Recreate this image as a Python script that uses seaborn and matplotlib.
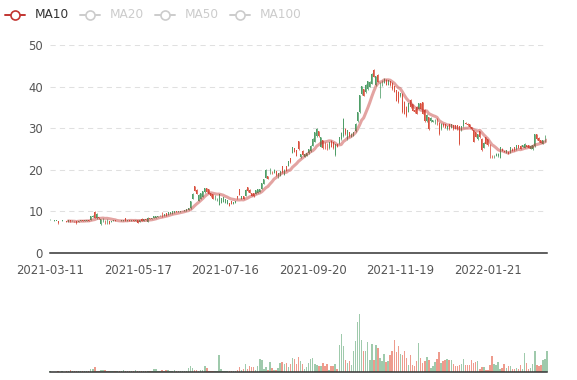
import pandas as pd
import seaborn as sns
import matplotlib.pyplot as plt
from matplotlib.lines import Line2D

# daily candles, one row of ten per line
open_ = [
    8.0, 7.9, 7.8, 7.8, 7.8, 7.5, 7.6, 7.7, 7.6, 7.5,
    7.9, 7.6, 7.8, 7.8, 7.5, 7.7, 7.9, 7.7, 7.8, 7.9,
    7.9, 8.7, 9.9, 8.3, 8.6, 6.9, 7.4, 7.9, 7.1, 7.6,
    7.4, 7.6, 7.9, 7.6, 7.8, 7.6, 7.8, 8.4, 7.8, 7.9,
    7.7, 7.9, 7.7, 7.9, 7.4, 8.2, 7.8, 8.2, 7.5, 8.5,
    8.2, 8.3, 8.5, 8.7, 8.8, 9.8, 8.9, 9.6, 9.2, 9.3,
    9.4, 9.7, 10.1, 9.8, 9.9, 10.0, 10.0, 10.2, 10.3, 10.7,
    13.1, 16.0, 15.2, 12.6, 13.0, 13.5, 14.6, 15.6, 15.3, 14.5,
    14.1, 13.0, 12.6, 11.6, 12.0, 12.2, 12.0, 11.8, 12.1, 12.4,
    11.8, 12.1, 13.7, 15.4, 13.0, 13.7, 13.7, 15.8, 15.2, 14.5,
    14.5, 14.2, 14.5, 14.7, 15.5, 16.7, 18.1, 18.5, 18.9, 19.7,
    19.3, 19.8, 18.4, 18.6, 20.8, 18.7, 20.8, 21.0, 22.8, 24.1,
    25.2, 24.8, 26.9, 23.0, 24.6, 23.1, 23.3, 24.0, 24.4, 25.8,
    26.8, 28.1, 29.4, 25.5, 27.1, 26.6, 26.3, 25.2, 27.0, 26.6,
    23.5, 26.3, 26.4, 27.3, 28.2, 29.9, 27.3, 29.1, 27.9, 28.2,
    29.3, 31.7, 33.8, 38.2, 39.4, 38.6, 39.4, 39.9, 40.7, 44.0,
    40.3, 42.9, 37.4, 40.3, 40.9, 41.7, 40.4, 41.3, 40.9, 40.1,
    39.1, 38.8, 37.7, 38.3, 36.4, 35.2, 33.9, 36.8, 35.8, 34.4,
    35.2, 34.6, 36.0, 36.2, 34.4, 31.7, 32.6, 31.7, 31.5, 31.1,
    32.3, 31.3, 29.7, 31.1, 30.9, 29.7, 30.9, 30.1, 30.7, 30.7,
    30.7, 30.5, 29.5, 30.5, 31.3, 31.1, 30.9, 30.3, 29.5, 29.0,
    27.3, 29.3, 27.5, 25.3, 27.9, 27.3, 26.1, 23.5, 23.0, 23.3,
    23.2, 22.9, 25.1, 24.6, 24.1, 24.3, 24.1, 25.1, 25.5, 24.9,
    25.9, 25.8, 25.4, 25.3, 25.9, 25.9, 25.1, 24.9, 25.7, 28.5,
    27.7, 27.1, 26.3, 26.9, 28.1,
]
close = [
    8.15, 7.9, 7.8, 7.8, 7.1, 7.5, 7.85, 7.7, 7.4, 7.9,
    7.6, 7.8, 7.6, 7.1, 7.8, 7.9, 7.7, 7.9, 7.9, 7.8,
    8.8, 9.0, 8.5, 9.4, 8.3, 8.1, 8.3, 7.1, 8.1, 7.0,
    7.8, 7.9, 7.7, 7.8, 7.6, 7.9, 8.0, 7.8, 7.9, 7.8,
    7.9, 7.7, 7.9, 7.2, 7.9, 7.8, 8.2, 8.0, 8.5, 8.2,
    8.5, 8.8, 9.0, 9.0, 9.2, 8.7, 9.4, 9.0, 9.8, 9.9,
    10.0, 10.0, 9.8, 10.1, 10.1, 10.2, 10.3, 10.6, 10.8, 12.4,
    14.3, 15.0, 14.2, 14.0, 14.4, 14.8, 15.6, 14.7, 14.2, 13.6,
    13.1, 13.9, 13.2, 14.2, 13.2, 13.4, 13.0, 12.7, 11.4, 11.7,
    12.3, 12.6, 13.2, 14.0, 13.7, 13.0, 15.2, 14.8, 14.4, 13.6,
    13.6, 15.2, 15.3, 15.5, 16.8, 17.8, 20.0, 17.8, 20.4, 18.9,
    20.0, 18.7, 19.3, 19.6, 19.4, 19.9, 19.8, 22.0, 21.8, 25.4,
    24.3, 23.2, 24.9, 23.8, 23.6, 23.8, 24.0, 25.0, 25.8, 27.5,
    29.0, 29.8, 28.1, 27.8, 25.2, 25.0, 24.8, 26.6, 25.5, 25.2,
    26.2, 25.6, 27.9, 28.8, 32.2, 28.5, 29.5, 28.1, 28.7, 29.1,
    31.1, 33.9, 38.0, 40.1, 37.8, 40.5, 41.3, 41.2, 43.1, 42.3,
    42.5, 41.1, 40.8, 41.5, 41.9, 40.4, 41.5, 40.3, 39.4, 38.8,
    36.6, 36.2, 38.4, 33.8, 33.4, 32.9, 36.0, 35.0, 34.2, 33.8,
    33.4, 36.0, 34.7, 33.4, 31.7, 33.2, 29.7, 32.5, 31.9, 32.1,
    30.9, 28.5, 31.1, 30.5, 30.1, 30.5, 29.7, 30.9, 29.7, 29.9,
    29.7, 26.1, 30.5, 31.9, 31.0, 30.7, 30.2, 29.7, 26.7, 28.0,
    28.5, 27.8, 24.7, 26.5, 26.3, 25.9, 22.9, 22.9, 23.5, 23.9,
    23.9, 25.5, 24.5, 24.3, 24.7, 23.9, 25.5, 24.5, 24.7, 25.9,
    25.3, 25.1, 25.9, 26.3, 25.4, 25.3, 25.8, 25.9, 28.5, 27.3,
    26.9, 26.5, 27.1, 28.3, 29.7,
]
low = [
    7.95, 7.9, 7.8, 7.75, 7.0, 7.45, 7.6, 7.65, 7.4, 7.5,
    7.55, 7.6, 7.55, 7.0, 7.45, 7.7, 7.7, 7.7, 7.8, 7.75,
    7.9, 8.6, 8.4, 8.2, 8.2, 6.8, 7.4, 7.0, 7.0, 7.0,
    7.4, 7.6, 7.7, 7.6, 7.6, 7.6, 7.8, 7.8, 7.8, 7.75,
    7.7, 7.7, 7.7, 7.1, 7.4, 7.8, 7.8, 8.0, 7.4, 8.2,
    8.2, 8.3, 8.5, 8.7, 8.8, 8.6, 8.9, 9.0, 9.2, 9.3,
    9.4, 9.7, 9.8, 9.8, 9.9, 10.0, 10.0, 10.2, 10.3, 10.6,
    13.0, 14.9, 14.1, 12.5, 13.0, 13.5, 14.5, 14.7, 14.1, 13.5,
    13.1, 12.8, 12.6, 11.5, 12.0, 12.2, 12.0, 11.8, 11.3, 11.7,
    11.8, 12.1, 13.1, 13.9, 13.0, 13.0, 13.6, 14.7, 14.4, 13.6,
    13.5, 14.2, 14.5, 14.7, 15.5, 16.7, 18.1, 17.7, 18.9, 18.9,
    19.3, 18.5, 18.1, 18.5, 19.3, 18.7, 19.7, 20.9, 21.7, 24.0,
    24.2, 23.2, 24.8, 22.9, 23.5, 23.1, 23.3, 23.9, 24.3, 25.7,
    26.7, 28.0, 28.0, 25.4, 25.1, 24.9, 24.7, 25.1, 25.4, 25.1,
    23.3, 25.5, 26.3, 27.2, 28.0, 28.4, 27.2, 28.0, 27.8, 28.1,
    29.2, 31.6, 33.7, 38.1, 37.7, 38.5, 39.3, 39.8, 40.6, 42.2,
    40.2, 41.0, 37.3, 40.2, 40.8, 40.3, 40.3, 40.2, 39.3, 38.7,
    36.5, 36.1, 37.6, 33.7, 33.3, 32.8, 33.8, 34.9, 34.1, 33.7,
    33.3, 34.5, 34.6, 33.3, 31.6, 31.6, 29.6, 31.6, 31.4, 31.0,
    30.8, 28.4, 29.6, 30.4, 30.0, 29.6, 29.6, 30.0, 29.6, 29.8,
    29.6, 26.0, 29.4, 30.4, 30.9, 30.6, 30.1, 29.6, 26.6, 27.9,
    27.2, 27.7, 24.6, 25.2, 26.2, 25.8, 22.8, 22.8, 22.9, 23.2,
    23.1, 22.8, 24.4, 24.2, 24.0, 23.8, 24.0, 24.4, 24.6, 24.8,
    25.2, 25.0, 25.4, 25.2, 25.4, 25.2, 25.0, 24.8, 25.6, 27.2,
    26.8, 26.4, 26.2, 26.8, 28.0,
]
high = [
    8.2, 7.95, 7.85, 7.8, 7.8, 7.5, 7.9, 7.7, 7.6, 8.0,
    7.9, 7.85, 7.8, 7.8, 7.8, 7.95, 7.9, 7.9, 7.95, 7.9,
    9.0, 9.1, 10.0, 9.5, 8.7, 8.2, 8.4, 7.9, 8.2, 7.6,
    7.8, 7.9, 7.9, 7.8, 7.8, 7.9, 8.0, 8.4, 7.95, 7.9,
    7.9, 7.9, 7.9, 7.9, 7.9, 8.3, 8.2, 8.2, 8.6, 8.5,
    8.5, 8.8, 9.0, 9.0, 9.2, 9.9, 9.4, 9.6, 9.8, 9.9,
    10.0, 10.0, 10.1, 10.1, 10.1, 10.2, 10.3, 10.6, 10.8, 12.5,
    14.4, 16.2, 15.3, 14.1, 14.5, 14.9, 15.7, 15.6, 15.3, 14.5,
    14.1, 13.9, 13.3, 14.3, 13.3, 13.4, 13.1, 12.7, 12.1, 12.5,
    12.3, 12.6, 13.7, 15.5, 13.8, 13.8, 15.3, 15.9, 15.3, 14.5,
    14.5, 15.2, 15.3, 15.5, 16.9, 17.9, 20.1, 18.5, 20.5, 19.7,
    20.1, 19.8, 19.3, 19.7, 20.9, 20.1, 20.9, 22.1, 22.9, 25.5,
    25.2, 24.8, 27.0, 23.9, 24.7, 23.9, 24.0, 25.1, 25.9, 27.6,
    29.2, 30.0, 29.4, 28.0, 27.2, 26.7, 26.5, 26.7, 27.2, 26.7,
    26.3, 26.3, 28.0, 29.0, 32.4, 30.0, 29.6, 29.2, 28.8, 29.2,
    31.2, 34.0, 38.1, 40.2, 39.5, 40.6, 41.4, 41.4, 43.3, 44.2,
    42.6, 43.0, 41.0, 41.6, 42.0, 41.8, 41.6, 41.4, 41.0, 40.2,
    39.2, 38.9, 38.5, 38.5, 36.5, 35.3, 36.1, 36.9, 35.9, 34.5,
    35.3, 36.1, 36.1, 36.3, 34.5, 33.3, 32.8, 32.6, 32.0, 32.2,
    32.4, 31.4, 31.2, 31.2, 31.0, 30.6, 31.0, 31.0, 30.8, 30.8,
    30.8, 30.6, 30.6, 32.0, 31.4, 31.2, 31.0, 30.4, 29.6, 29.1,
    28.6, 29.4, 27.6, 26.6, 28.0, 27.4, 26.2, 23.6, 23.6, 24.0,
    24.0, 25.6, 25.2, 24.6, 24.8, 24.4, 25.6, 25.2, 25.6, 26.0,
    26.0, 25.9, 26.0, 26.4, 26.0, 26.0, 25.9, 26.0, 28.6, 28.6,
    27.8, 27.2, 27.2, 28.4, 29.8,
]
volume = [
    1.3, 0.4, 0.4, 0.4, 1.3, 0.5, 0.8, 0.5, 0.8, 1.0,
    2.3, 1.2, 1.0, 1.3, 1.3, 1.0, 1.0, 1.3, 1.3, 1.0,
    3.3, 3.3, 5.3, 1.5, 1.2, 2.0, 2.3, 2.3, 1.3, 1.0,
    1.0, 1.0, 1.3, 1.3, 1.3, 1.3, 2.0, 1.3, 1.0, 1.3,
    1.3, 1.0, 2.0, 1.3, 1.3, 1.3, 0.8, 0.8, 0.8, 1.0,
    1.3, 3.3, 2.7, 1.3, 1.3, 2.3, 1.0, 2.0, 2.0, 1.3,
    1.3, 2.3, 1.0, 1.0, 1.3, 1.0, 1.0, 1.3, 4.3, 5.7,
    4.3, 2.3, 2.3, 1.0, 2.3, 2.0, 6.3, 3.7, 1.0, 1.3,
    1.3, 1.0, 1.3, 17.3, 3.0, 1.3, 1.3, 1.3, 1.3, 1.3,
    1.0, 1.3, 1.7, 5.0, 1.7, 3.3, 8.3, 3.3, 5.7, 5.0,
    4.7, 1.7, 6.3, 13.0, 12.3, 3.0, 5.0, 2.0, 10.3, 3.7,
    2.0, 2.3, 4.0, 9.0, 10.0, 8.3, 9.0, 5.0, 8.0, 14.0,
    13.0, 8.3, 14.7, 10.7, 8.3, 3.3, 4.7, 9.0, 13.0, 14.0,
    8.0, 7.3, 6.3, 6.3, 9.0, 6.3, 8.3, 2.3, 6.3, 5.7,
    8.0, 3.0, 26.7, 38.0, 26.3, 11.7, 9.0, 11.3, 6.7, 21.3,
    31.3, 50.0, 58.0, 32.0, 21.3, 21.3, 30.3, 11.7, 28.0, 12.3,
    27.3, 24.0, 14.0, 11.3, 18.3, 10.0, 10.7, 16.7, 20.7, 31.7,
    19.7, 25.7, 18.0, 17.3, 20.7, 14.0, 7.3, 17.3, 7.3, 5.7,
    10.7, 29.0, 14.3, 9.0, 10.7, 15.3, 12.3, 4.0, 5.7, 10.3,
    13.0, 19.7, 9.0, 10.7, 11.7, 13.0, 12.0, 12.0, 8.0, 6.3,
    6.3, 7.3, 8.0, 12.7, 7.3, 7.0, 7.3, 11.7, 9.0, 9.7,
    11.0, 3.0, 5.0, 5.0, 2.3, 2.3, 7.3, 16.3, 8.3, 6.7,
    10.0, 3.0, 4.0, 8.0, 4.0, 5.7, 5.7, 3.3, 3.3, 4.0,
    3.3, 7.3, 3.3, 19.0, 9.0, 3.3, 4.0, 8.0, 20.7, 7.3,
    5.7, 6.7, 12.3, 13.3, 21.3,
]
tick_labels = ['2021-03-11', '2021-05-17', '2021-07-16',
               '2021-09-20', '2021-11-19', '2022-01-21']
tick_step = 43
legend_names = ['MA10', 'MA20', 'MA50', 'MA100']

df = pd.DataFrame({'open': open_, 'close': close, 'low': low,
                   'high': high, 'volume': volume})
df['idx'] = range(len(df))
df['MA10'] = df['close'].rolling(10).mean()
rising = df['close'] >= df['open']
UP, DOWN = '#4f9e68', '#d9503e'
VOL_UP, VOL_DOWN = '#9fcaac', '#ee9b8d'
df['color'] = rising.map({True: UP, False: DOWN})
df['vcolor'] = rising.map({True: VOL_UP, False: VOL_DOWN})

sns.set_style('white')
plt.rcParams['font.family'] = ['DejaVu Sans']

W, H = 577, 380
fig = plt.figure(figsize=(W / 100, H / 100), dpi=100)
ax = fig.add_axes([50 / W, 1 - 253 / H, 497 / W, 208 / H])
axv = fig.add_axes([50 / W, 1 - 372 / H, 497 / W, 72 / H])

# candles: wick + thin body
ax.vlines(df['idx'], df['low'], df['high'], colors=df['color'], lw=0.55, zorder=3)
body_lo = df[['open', 'close']].min(axis=1)
body_h = (df['open'] - df['close']).abs().clip(lower=0.06)
ax.bar(df['idx'], body_h, bottom=body_lo, width=0.45, color=df['color'],
       linewidth=0, zorder=3, clip_on=False)

sns.lineplot(data=df, x='idx', y='MA10', ax=ax, color='#c23531', alpha=0.45,
             lw=2.2, zorder=4)

ax.set_xlim(0, len(df) - 1)
ax.set_ylim(0, 50)
ax.set_yticks(range(0, 51, 10))
for y in range(10, 51, 10):
    ax.axhline(y, color='#e0e0e0', lw=0.75, ls=(0, (5, 4)), zorder=0)
for s in ['left', 'right', 'top']:
    ax.spines[s].set_visible(False)
ax.spines['bottom'].set_color('#333333')
ax.spines['bottom'].set_linewidth(1.1)
ax.set_xticks([i * tick_step for i in range(len(tick_labels))])
ax.set_xticklabels(tick_labels)
ax.tick_params(axis='x', length=5, width=1, color='#333333', pad=3,
               labelsize=8.4, labelcolor='#555555')
ax.tick_params(axis='y', length=0, pad=5, labelsize=8.4, labelcolor='#555555')
ax.set_xlabel('')
ax.set_ylabel('')

# volume panel, crisp 1-2 px bars with a gap like the original
axv.bar(df['idx'], df['volume'], width=0.72, color=df['vcolor'],
        linewidth=0, clip_on=False, antialiased=False)
axv.set_xlim(0, len(df) - 1)
axv.set_ylim(0, 72)
for s in ['left', 'right', 'top']:
    axv.spines[s].set_visible(False)
axv.spines['bottom'].set_color('#333333')
axv.spines['bottom'].set_linewidth(1.1)
axv.spines['bottom'].set_zorder(5)
axv.set_xticks([])
axv.set_yticks([])

# legend drawn by hand: only MA10 active
legend_x = [5, 80, 155, 230]
for name, x0 in zip(legend_names, legend_x):
    col = '#c23531' if name == 'MA10' else '#cccccc'
    tcol = '#333333' if name == 'MA10' else '#cccccc'
    yy = 1 - 15 / H
    fig.add_artist(Line2D([x0 / W, (x0 + 20) / W], [yy, yy], color=col, lw=1.4))
    fig.add_artist(Line2D([(x0 + 10) / W], [yy], marker='o', ms=6.5, mfc='white',
                          mec=col, mew=1.2, color=col))
    fig.text((x0 + 30) / W, yy, name, color=tcol, fontsize=8.7, va='center',
             ha='left')

fig.savefig('out.png', dpi=100)
